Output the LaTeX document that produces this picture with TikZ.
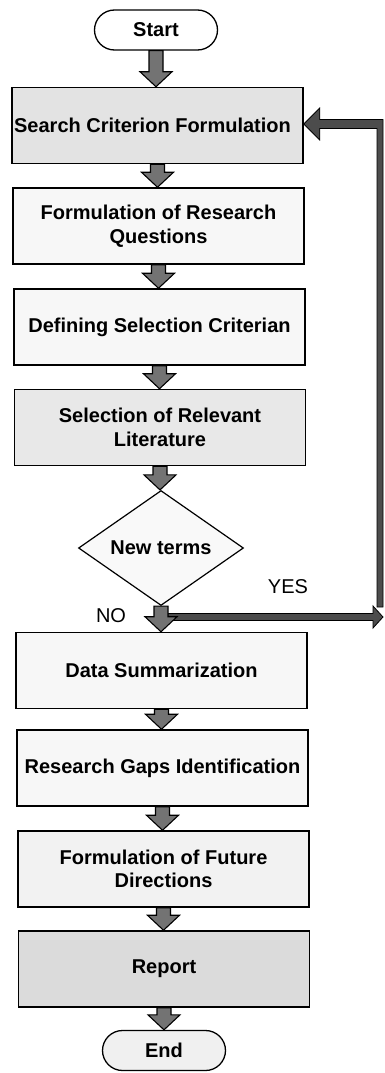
\documentclass[tikz,border=0pt]{standalone}
\usepackage{fontspec}
\setmainfont{Liberation Sans}
\usetikzlibrary{shapes.geometric,calc}

% block arrow pointing down from the bottom of #1 to the top of #2
\newcommand\downblock[2]{%
  \path let \p1=(#1.south), \p2=(#2.north) in
    [blkarrow] (\x1-7pt,\y1) -- (\x1-7pt,\y2+15pt) -- (\x1-16pt,\y2+15pt)
    -- (\x1,\y2) -- (\x1+16pt,\y2+15pt) -- (\x1+7pt,\y2+15pt)
    -- (\x1+7pt,\y1) -- cycle;}

\begin{document}
\begin{tikzpicture}[x=1pt,y=-1pt,
  txt/.style={font=\fontsize{20}{23.5}\selectfont\bfseries, align=center, inner sep=0pt},
  stepbox/.style={txt, draw, line width=1.5pt, minimum width=291pt, minimum height=76pt},
  terminal/.style={txt, draw, line width=1.3pt, rounded corners=20pt,
    minimum width=123pt, minimum height=40pt},
  decision/.style={txt, draw, line width=1.2pt, diamond, aspect=1.43,
    minimum width=165pt, minimum height=115pt, fill=gray!5},
  blkarrow/.style={draw, line width=1.1pt, fill=black!55},
  loopbar/.style={draw, line width=0.8pt, fill=black!70},
  answer/.style={font=\fontsize{20}{24}\selectfont, inner sep=0pt}]
\useasboundingbox (0,0) rectangle (384,1073);

% process chain
\node[terminal, fill=white] (start) at (156,30) {Start};
\node[stepbox, fill=gray!22] (b1) at (157.5,125.5) {\hspace*{-10pt}Search Criterion Formulation};
\node[stepbox, fill=gray!6] (b2) at (158.5,226) {Formulation of Research\\Questions};
\node[stepbox, fill=gray!6] (b3) at (159.5,327) {Defining Selection Criterian};
\node[stepbox, fill=gray!18] (b4) at (160,427.5) {Selection of Relevant\\Literature};
\node[decision] (dia) at (161,548) {New terms};
\node[stepbox, fill=gray!6] (b5) at (161.5,670.5) {Data Summarization};
\node[stepbox, fill=gray!6] (b6) at (162.5,768) {Research Gaps Identification};
\node[stepbox, fill=gray!10] (b7) at (163.5,869) {Formulation of Future\\Directions};
\node[stepbox, fill=gray!28] (b8) at (164,969) {Report};
\node[terminal, fill=gray!12] (end) at (164,1050.5) {End};

% downward block arrows
\downblock{start}{b1}
\downblock{b1}{b2}
\downblock{b2}{b3}
\downblock{b3}{b4}
\downblock{b4}{dia}
\downblock{b5}{b6}
\downblock{b6}{b7}
\downblock{b7}{b8}
\downblock{b8}{end}

% YES loop back to the search step
\coordinate (loopTR) at (380,124);
\coordinate (loopBR) at (380,607);
\coordinate (loopR) at (383,617);
\path let \p1=(b1.east), \p2=(loopTR), \p3=(loopBR) in
  [loopbar] (\x2-3pt,\y3) -- (\x2-3pt,\y2-4.5pt) -- (\x1+16pt,\y2-4.5pt)
  -- (\x1+16pt,\y2-16pt) -- (\x1,\y2) -- (\x1+16pt,\y2+16pt)
  -- (\x1+16pt,\y2+4.5pt) -- (\x2+3pt,\y2+4.5pt) -- (\x2+3pt,\y3) -- cycle;
\path let \p1=(dia.south), \p2=(loopR) in
  [loopbar] (\x1+7pt,\y2+3.5pt) -- (\x2-10pt,\y2+3.5pt) -- (\x2-10pt,\y2+11pt)
  -- (\x2,\y2) -- (\x2-10pt,\y2-11pt) -- (\x2-10pt,\y2-3.5pt)
  -- (\x1+7pt,\y2-3.5pt) -- cycle;
\downblock{dia}{b5}

% branch labels
\node[answer] (yes) at (288,587) {YES};
\node[answer] (no) at (111,616) {NO};
\end{tikzpicture}
\end{document}
